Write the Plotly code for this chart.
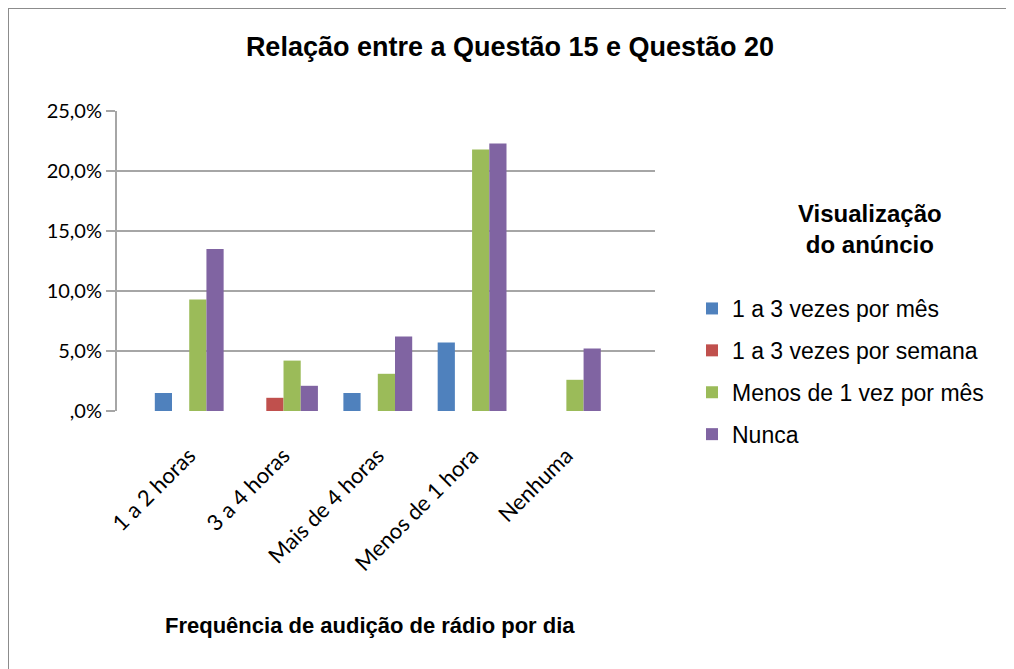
import plotly.graph_objects as go

categories = ["1 a 2 horas", "3 a 4 horas", "Mais de 4 horas", "Menos de 1 hora", "Nenhuma"]
series_names = ["1 a 3 vezes por mês", "1 a 3 vezes por semana", "Menos de 1 vez por mês", "Nunca"]
mes_1a3 = [1.5, 0.0, 1.5, 5.7, 0.0]
semana_1a3 = [0.0, 1.1, 0.0, 0.0, 0.0]
menos_1_mes = [9.3, 4.2, 3.1, 21.8, 2.6]
nunca = [13.5, 2.1, 6.2, 22.3, 5.2]
series_values = [mes_1a3, semana_1a3, menos_1_mes, nunca]
colors = ["#4F81BD", "#C0504D", "#9BBB59", "#8064A2"]
y_tickvals = [0, 5, 10, 15, 20, 25]
y_ticktext = [",0%", "5,0%", "10,0%", "15,0%", "20,0%", "25,0%"]

W, H = 1014, 669
OFF = 8  # page body margin offset

fig = go.Figure()
for i, (name, vals) in enumerate(zip(series_names, series_values)):
    fig.add_trace(go.Bar(
        x=categories, y=vals, name=name,
        marker=dict(color=colors[i], line=dict(width=0)),
        legendgroup=f"g{i}",
        hovertemplate="%{x}: %{y:.1f}%<extra>" + name + "</extra>",
    ))

def px(x):
    return (x - OFF) / W

def py(y):
    return 1 - (y - OFF) / H

fig.update_layout(
    width=W, height=H,
    margin=dict(l=0, r=0, t=0, b=0),
    paper_bgcolor="white", plot_bgcolor="white",
    barmode="group", bargap=0.27, bargroupgap=0.0,
    title=dict(text="<b>Relação entre a Questão 15 e Questão 20</b>",
               x=px(510), xanchor="center", y=py(47), yanchor="middle",
               yref="container",
               font=dict(family="Liberation Sans, Arial", size=27, color="#000")),
    xaxis=dict(domain=[px(117), px(655)], range=[-0.766, 4.94],
               showgrid=False, showline=False, zeroline=False,
               tickangle=-45, ticks="outside", ticklen=22,
               tickcolor="rgba(0,0,0,0)", automargin=False,
               tickfont=dict(family="Lato, Open Sans", size=22, color="#000")),
    yaxis=dict(domain=[py(411), py(111)], range=[0, 25],
               tickvals=y_tickvals, ticktext=y_ticktext,
               showgrid=True, gridcolor="#A6A6A6", gridwidth=2,
               showline=True, linecolor="#A6A6A6", linewidth=2,
               zeroline=False, ticks="outside", ticklen=9, tickwidth=2,
               tickcolor="#A6A6A6", automargin=False,
               tickfont=dict(family="Lato, Open Sans", size=20, color="#000")),
    legend=dict(x=px(692), xanchor="left", y=py(287), yanchor="top",
                traceorder="grouped", tracegroupgap=9,
                font=dict(family="Liberation Sans, Arial", size=23, color="#000"),
                bgcolor="rgba(0,0,0,0)", itemclick=False),
    showlegend=True,
)

fig.add_annotation(text="<b>Visualização<br>do anúncio</b>", xref="paper", yref="paper",
                   x=px(870), y=py(229), xanchor="center", yanchor="middle",
                   showarrow=False, align="center",
                   font=dict(family="Liberation Sans, Arial", size=24, color="#000"))
fig.add_annotation(text="<b>Frequência de audição de rádio por dia</b>", xref="paper", yref="paper",
                   x=px(370), y=py(625), xanchor="center", yanchor="middle",
                   showarrow=False,
                   font=dict(family="Liberation Sans, Arial", size=22, color="#000"))
fig.add_shape(type="rect", xref="paper", yref="paper",
              x0=px(8), x1=1.05, y0=-0.05, y1=py(8),
              line=dict(color="#8C8C8C", width=2), fillcolor="rgba(0,0,0,0)", layer="below")

fig.write_html("out.html")
